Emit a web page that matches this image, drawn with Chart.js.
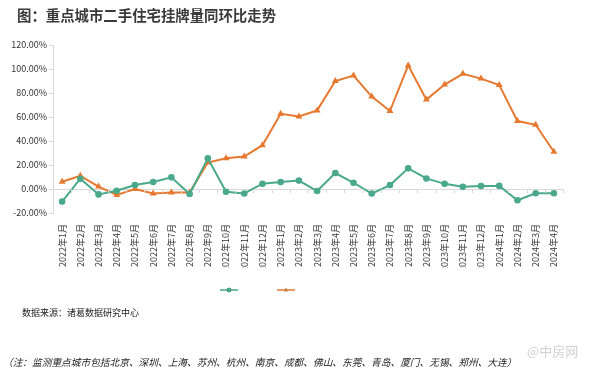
<!DOCTYPE html>
<html>
<head>
<meta charset="utf-8">
<script src="https://cdn.jsdelivr.net/npm/chart.js@4"></script>
<style>
  body { margin: 0; background: #fff; }
  #wrap { position: relative; width: 600px; height: 375px; overflow: hidden; font-family: "Noto Sans CJK SC", sans-serif; }
  #chart { position: absolute; left: 0; top: 0; }
  .txt { position: absolute; white-space: nowrap; color: #222; }
  #title { left: 17px; top: 4px; font-size: 14.4px; font-weight: bold; color: #3a3a3a; }
  #source { left: 22px; top: 306px; font-size: 9px; }
  #note { left: 3px; top: 355px; font-size: 9.7px; font-style: italic; }
  #mark { left: 527px; top: 341px; font-size: 13px; color: rgba(170,170,170,0.55); }
</style>
</head>
<body>
<div id="wrap">
  <canvas id="chart" width="600" height="375"></canvas>
  <div class="txt" id="title">图：重点城市二手住宅挂牌量同环比走势</div>
  <div class="txt" id="source">数据来源：诸葛数据研究中心</div>
  <div class="txt" id="note">（注：监测重点城市包括北京、深圳、上海、苏州、杭州、南京、成都、佛山、东莞、青岛、厦门、无锡、郑州、大连）</div>
  <div class="txt" id="mark">@中房网</div>
</div>
<script>
const months = [
  '2022年1月', '2022年2月', '2022年3月', '2022年4月', '2022年5月', '2022年6月', '2022年7月',
  '2022年8月', '2022年9月', '2022年10月', '2022年11月', '2022年12月',
  '2023年1月', '2023年2月', '2023年3月', '2023年4月', '2023年5月', '2023年6月', '2023年7月',
  '2023年8月', '2023年9月', '2023年10月', '2023年11月', '2023年12月',
  '2024年1月', '2024年2月', '2024年3月', '2024年4月'
];
// 环比 (green), 同比 (orange), in %
const momValues = [-10.5, 8.6, -4.5, -1.4, 3.3, 5.8, 9.7, -4.2, 25.6, -2.3, -3.7, 4.4,
  5.8, 7, -1.7, 13.3, 5.2, -3.8, 3.3, 17.2, 8.8, 4.3, 1.8, 2.5, 2.6, -9.4, -3.5, -3.5];
const yoyValues = [6, 11, 2, -5, 0, -3.7, -3, -3, 22, 25.6, 27, 36.5,
  62.7, 60.5, 65.5, 90, 94.5, 77, 65, 103, 74.5, 87, 96, 92, 86.7, 56.6, 53.5, 31];
const yTicks = [-20, 0, 20, 40, 60, 80, 100, 120];

const green = '#4aa98a';
const orange = '#e6782f';
const axisGray = '#d9d9d9';
const font = '"Noto Sans CJK SC", sans-serif';

// small tick marks hanging from the zero line + legend without text
const extras = {
  id: 'extras',
  afterDatasetsDraw(chart) {
    const ctx = chart.ctx;
    const x = chart.scales.x;
    const y0 = chart.scales.y.getPixelForValue(0);
    ctx.save();
    ctx.strokeStyle = axisGray;
    ctx.lineWidth = 1;
    for (let i = 0; i <= months.length; i++) {
      const px = Math.round(x.left + (x.right - x.left) * i / months.length) + 0.5;
      ctx.beginPath();
      ctx.moveTo(px, y0);
      ctx.lineTo(px, y0 + 4);
      ctx.stroke();
    }
    const items = [[220, green, 'circle'], [277, orange, 'triangle']];
    items.forEach(([lx, c, shape]) => {
      const ly = 290;
      ctx.strokeStyle = c;
      ctx.lineWidth = 1.5;
      ctx.beginPath();
      ctx.moveTo(lx, ly);
      ctx.lineTo(lx + 18, ly);
      ctx.stroke();
      Chart.helpers.drawPoint(ctx, {pointStyle: shape, radius: 2.3, borderWidth: 0}, lx + 9, ly);
      ctx.fillStyle = c;
      ctx.fill();
    });
    ctx.restore();
  }
};

new Chart(document.getElementById('chart'), {
  type: 'line',
  data: {
    labels: months,
    datasets: [{
      label: '环比',
      data: momValues,
      borderColor: green,
      backgroundColor: green,
      borderWidth: 2,
      pointStyle: 'circle',
      pointRadius: 3.3,
      pointBorderWidth: 0,
      tension: 0
    }, {
      label: '同比',
      data: yoyValues,
      borderColor: orange,
      backgroundColor: orange,
      borderWidth: 2,
      pointStyle: 'triangle',
      pointRadius: 4,
      pointBorderWidth: 0,
      tension: 0
    }]
  },
  options: {
    responsive: false,
    animation: false,
    layout: { padding: { left: 0, right: 37, top: 45, bottom: 107 } },
    plugins: {
      legend: { display: false },
      tooltip: { enabled: false }
    },
    scales: {
      x: {
        offset: true,
        grid: { display: false },
        border: { display: false },
        ticks: {
          autoSkip: false,
          minRotation: 90,
          maxRotation: 90,
          padding: 3,
          color: '#333',
          font: { family: font, size: 9 }
        },
        afterFit: s => { s.height = 55; }
      },
      y: {
        min: -20,
        max: 120,
        afterBuildTicks: s => { s.ticks = yTicks.map(v => ({ value: v })); },
        grid: {
          color: c => c.tick && c.tick.value === 0 ? axisGray : 'rgba(0,0,0,0)',
          tickColor: axisGray,
          tickLength: 4
        },
        border: { display: true, color: axisGray },
        ticks: {
          padding: 2,
          color: '#333',
          font: { family: font, size: 9 },
          callback: v => v.toFixed(2) + '%'
        },
        afterFit: s => { s.width = 53; }
      }
    }
  },
  plugins: [extras]
});
</script>
</body>
</html>
